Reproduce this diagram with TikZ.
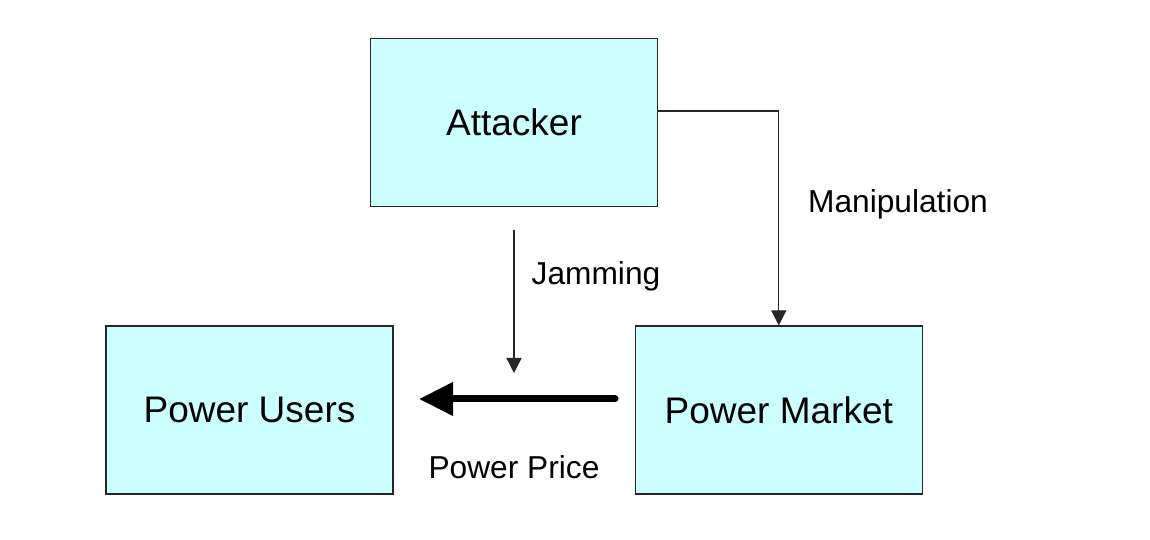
\documentclass[tikz,border=0pt]{standalone}
\usepackage{fontspec}
\setmainfont{Liberation Sans}
\usepackage{tikz}
\usetikzlibrary{arrows.meta,positioning}

\definecolor{boxfill}{HTML}{CCFFFF}

\begin{document}
\begin{tikzpicture}[
        x=1pt, y=1pt,
        node distance=241pt,
        box/.style={rectangle, draw=black!85, line width=1.3pt, fill=boxfill, minimum width=287pt, minimum height=168pt, font=\fontsize{37}{44}\selectfont},
        lbl/.style={font=\fontsize{31.7}{38}\selectfont},
        thin/.style={draw=black!85, line width=1.3pt, -{Triangle[length=15pt,width=15pt]}},
        thick/.style={line width=7pt, line cap=round, -{Triangle[length=34pt,width=32pt]}}
    ]
        \useasboundingbox (0,0) rectangle (1150,540);

        % Attacker
        \node [box] (attacker) at (514,417.5) {Attacker};

        % Power Users
        \node [box] (users) at (249.5,130) {Power Users};

        % Power Market
        \node [box, right=of users] (market) {Power Market};

        % Free ends
        \coordinate (jamstart) at (514,310);
        \coordinate (jamend) at (514,167);
        \coordinate (pricestart) at (615,141);
        \coordinate (priceend) at (419,141);
        \coordinate (manipcorner) at (market.north |- 0,429);

        % Labels
        \node [lbl] (manip) at (898,336) {Manipulation};
        \node [lbl] (jam) at (596,264) {Jamming};
        \node [lbl] (price) at (514,73) {Power Price};

        % Arrows
        \draw [thin] (attacker.east |- manipcorner) -- (manipcorner) -- (market.north);
        \draw [thin] (jamstart) -- (jamend);
        \draw [thick] (pricestart) -- (priceend);

    \end{tikzpicture}
\end{document}
